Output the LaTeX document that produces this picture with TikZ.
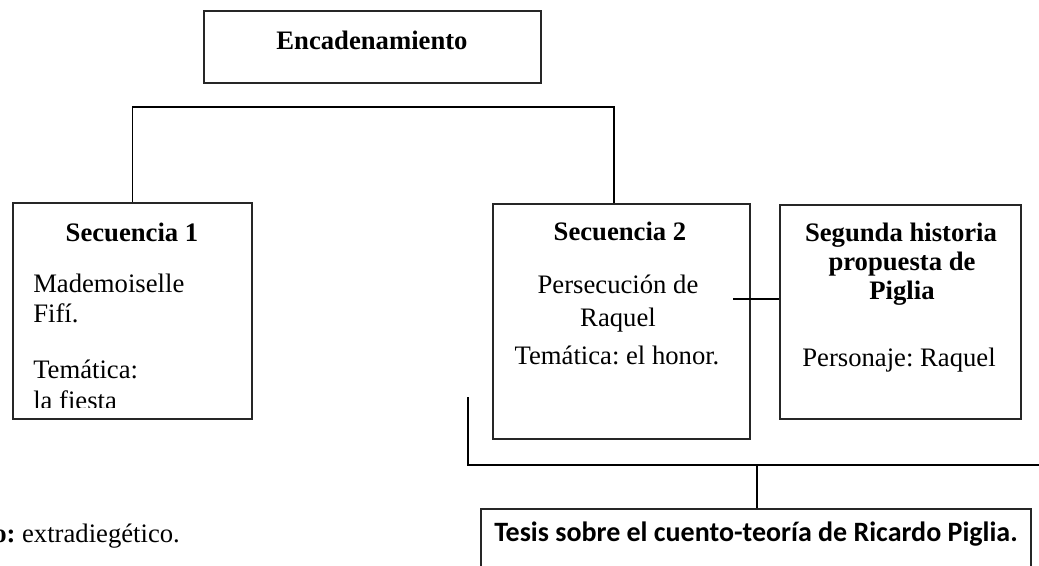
\documentclass[tikz,border=0pt]{standalone}
\usepackage{fontspec}
\setmainfont{Liberation Serif}
\newfontfamily\calib{Carlito}
\usetikzlibrary{fit}
\frenchspacing
\begin{document}
\begin{tikzpicture}[x=0.75pt,y=-0.75pt,
  box/.style={draw=black!85, line width=1pt, inner sep=0pt},
  conn/.style={draw=black, line width=0.9pt},
  txt/.style={font=\fontsize{20}{24}\selectfont, inner sep=0pt, anchor=base},
  btxt/.style={font=\fontsize{20}{24}\selectfont\bfseries, inner sep=0pt, anchor=base},
  ltxt/.style={font=\fontsize{20}{24}\selectfont, inner sep=0pt, anchor=base west}]
\useasboundingbox (0,0) rectangle (1039,565);
\clip (0,0) rectangle (1039,565);
% boxes
\node[box, fit={(204,11) (541,83)}] (enc) {};
\node[box, fit={(13,203) (252,419)}] (sec1) {};
\node[box, fit={(493,204) (750,439)}] (sec2) {};
\node[box, fit={(780,205) (1021,419)}] (seg) {};
\node[box, fit={(481,509) (1031,580)}] (tesis) {};
% texts
\node[btxt] (enct) at (372,49) {Encadenamiento};
\node[btxt] (s1t) at (132,241) {Secuencia 1};
\node[ltxt] (s1a) at (33,292) {Mademoiselle};
\node[ltxt] (s1b) at (33,322) {Fifí.};
\node[ltxt] (s1c) at (33,378) {Temática:};
\begin{scope}
\clip (14,204) rectangle (251,407);
\node[ltxt] (s1d) at (33,409) {la fiesta};
\end{scope}
\node[btxt] (s2t) at (620,240) {Secuencia 2};
\node[txt] (s2a) at (618,293) {Persecución de};
\node[txt] (s2b) at (618,326) {Raquel};
\node[txt] (s2c) at (617,364) {Temática: el honor.};
\node[btxt] (sgt1) at (901,241) {Segunda historia};
\node[btxt] (sgt2) at (902,270) {propuesta de};
\node[btxt] (sgt3) at (902,299) {Piglia};
\node[txt] (sga) at (899,366) {Personaje: Raquel};
\node[inner sep=0pt, anchor=base west, font=\fontsize{21}{25}\selectfont\calib\bfseries] (tt) at (494,541) {Tesis sobre el cuento-teoría de Ricardo Piglia.};
\node[ltxt] (narr) at (-7,542) {\textbf{o:} extradiegético.};
% connectors
\coordinate (t1) at (614,107);
\draw[conn] (sec1.north) |- (t1) -- (t1 |- sec2.north);
\coordinate (c1) at (733,299);
\draw[conn] (c1) -- (c1 -| seg.west);
\coordinate (b0) at (468,397);
\coordinate (b1) at (468,465);
\coordinate (b2) at (1039,465);
\coordinate (b3) at (757,465);
\draw[conn] (b0) -- (b1) -- (b2);
\draw[conn] (b3) -- (b3 |- tesis.north);
\end{tikzpicture}
\end{document}
